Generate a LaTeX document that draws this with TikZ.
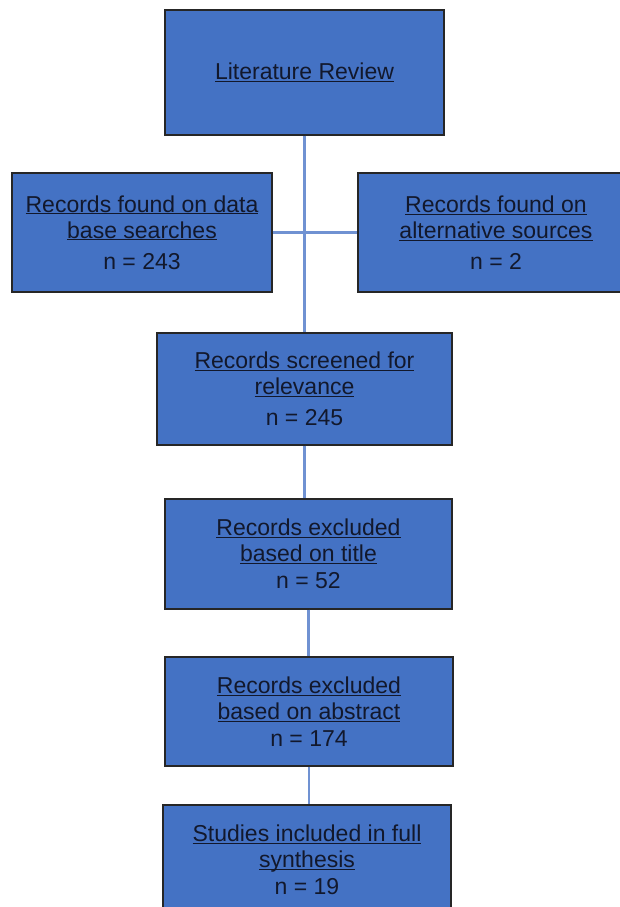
\documentclass[tikz,border=0pt]{standalone}
\usepackage{fontspec}
\setmainfont{Liberation Sans}
\usetikzlibrary{shapes}
\definecolor{boxBlue}{RGB}{68,114,196}
\definecolor{lineBlue}{RGB}{112,146,210}
\definecolor{textDark}{RGB}{18,24,44}
\newcommand{\ulText}[1]{\underline{\raisebox{0pt}[\height][0pt]{#1}}}

\begin{document}
\begin{tikzpicture}[x = 1pt, y = -1pt]
	\tikzstyle{boxStyle} = [shape = rectangle, draw = black!85, line width = 1.4pt, fill = boxBlue, text = textDark, align = center, inner sep = 0pt, font = \fontsize{23}{26}\selectfont]
	\tikzstyle{lineStyle} = [draw = lineBlue, line width = 2.4pt]
	\clip (0, 0) rectangle (620, 907);
	\node[boxStyle, minimum width = 279pt, minimum height = 125pt] (lit) at (304.5, 72.5) {\ulText{Literature Review}};
	\node[boxStyle, minimum width = 260pt, minimum height = 119pt] (db) at (142, 232.5) {\ulText{Records found on data}\\ \ulText{base searches}\\[5pt] n = 243};
	\node[boxStyle, minimum width = 276pt, minimum height = 119pt] (alt) at (496, 232.5) {\ulText{Records found on}\\ \ulText{alternative sources}\\[5pt] n = 2};
	\node[boxStyle, minimum width = 295pt, minimum height = 112pt] (scr) at (304.5, 389) {\ulText{Records screened for}\\ \ulText{relevance}\\[5pt] n = 245};
	\node[boxStyle, minimum width = 287pt, minimum height = 110pt] (title) at (308.5, 554) {\ulText{Records excluded}\\ \ulText{based on title}\\[1pt] n = 52};
	\node[boxStyle, minimum width = 288pt, minimum height = 109pt] (abs) at (309, 711.5) {\ulText{Records excluded}\\ \ulText{based on abstract}\\[1pt] n = 174};
	\node[boxStyle, minimum width = 288pt, minimum height = 110pt] (stud) at (307, 860) {\ulText{Studies included in full}\\ \ulText{synthesis}\\[1pt] n = 19};
	\draw[lineStyle] (lit) -- (scr);
	\draw[lineStyle] (db) -- (alt);
	\draw[lineStyle] (scr.south) -- (scr.south |- title.north);
	\draw[lineStyle] (title.south) -- (title.south |- abs.north);
	\draw[lineStyle] (abs.south) -- (abs.south |- stud.north);
\end{tikzpicture}
\end{document}
